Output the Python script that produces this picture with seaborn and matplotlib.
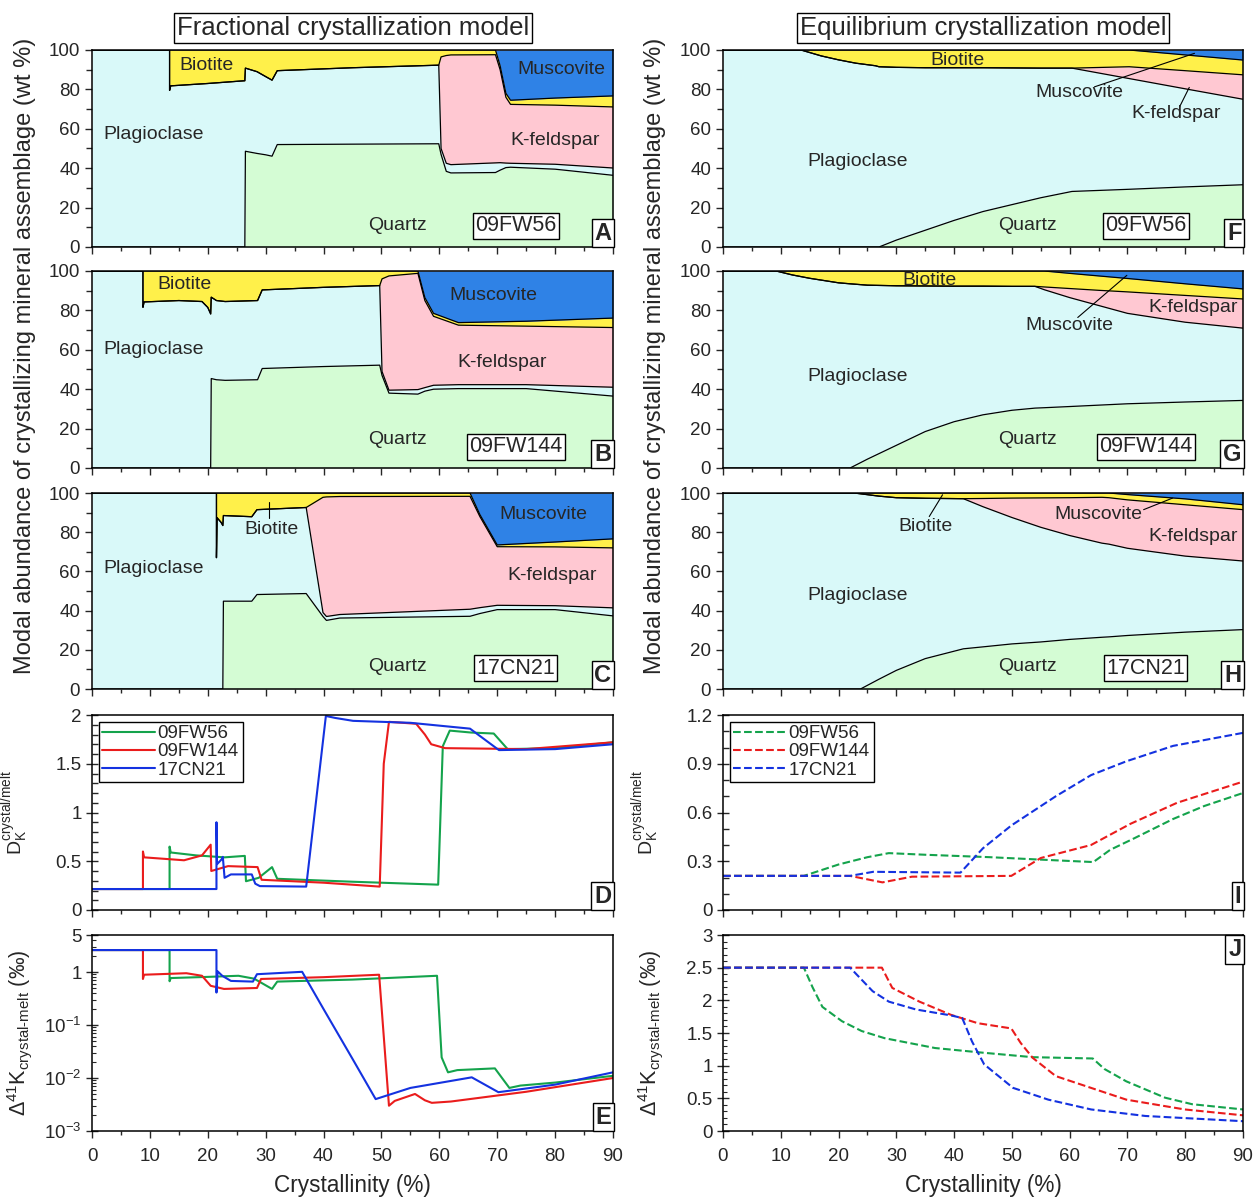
import numpy as np
import matplotlib
matplotlib.use('Agg')
import matplotlib.pyplot as plt
import seaborn as sns
from matplotlib.ticker import MultipleLocator, FixedLocator, FixedFormatter, LogLocator, NullFormatter

sns.set_theme(style='ticks')
plt.rcParams['font.family'] = ['Liberation Sans', 'DejaVu Sans']
plt.rcParams['mathtext.fontset'] = 'custom'
plt.rcParams['mathtext.rm'] = 'Liberation Sans'
plt.rcParams['mathtext.it'] = 'Liberation Sans:italic'
plt.rcParams['mathtext.bf'] = 'Liberation Sans:bold'

# -----------------------------
# Modal abundance (cumulative tops: quartz, plagioclase, K-feldspar, biotite; muscovite fills to 100)
# -----------------------------
a_x   = [0, 13.4, 13.4, 13.6, 20, 26.4, 26.5, 28.5, 30, 31.1, 32, 45, 59.9, 60.3, 61.2, 62, 69.7, 70.5, 71.5, 72.3, 80, 90]
a_qtz = [0, 0, 0, 0, 0, 0, 48.6, 47.5, 46.8, 46.1, 52, 52.2, 52.4, 47, 38.4, 37.6, 37.8, 39, 40.3, 40.5, 39.5, 36.4]
a_pl  = [100, 100, 79.5, 81.8, 83, 84.4, 90.8, 89, 86.5, 84.7, 89.5, 91, 92.3, 50, 42.5, 41.8, 42.7, 42.8, 42.6, 42.5, 42, 40.1]
a_kfs = [100, 100, 79.5, 81.8, 83, 84.4, 90.8, 89, 86.5, 84.7, 89.5, 91, 92.3, 96.5, 97.2, 97.5, 97.6, 90, 76, 72.4, 72, 71.1]
a_bt  = [100, 100, 100, 100, 100, 100, 100, 100, 100, 100, 100, 100, 100, 100, 100, 100, 100, 92, 78, 74.5, 75.6, 76.7]

b_x   = [0, 8.8, 8.8, 9.0, 15, 19, 20.0, 20.5, 20.6, 21.5, 23, 28.6, 29.4, 40, 49.7, 50.1, 51.3, 56.3, 57.5, 59, 63.3, 75, 90]
b_qtz = [0, 0, 0, 0, 0, 0, 0, 0, 45.4, 44.8, 44.5, 44.8, 50.5, 51.5, 52.2, 47, 38, 37.5, 39, 40, 40.3, 40.3, 36.5]
b_pl  = [100, 100, 81.6, 84.3, 85, 84.5, 81.5, 78.2, 86.7, 85, 84.5, 85, 90.4, 91.7, 92.6, 49, 39.5, 39.8, 40.8, 42, 42.3, 42.3, 41]
b_kfs = [100, 100, 81.6, 84.3, 85, 84.5, 81.5, 78.2, 86.7, 85, 84.5, 85, 90.4, 91.7, 92.6, 96, 97.5, 98.8, 85, 77, 72.5, 72, 71.3]
b_bt  = [100, 100, 100, 100, 100, 100, 100, 100, 100, 100, 100, 100, 100, 100, 100, 100, 100, 100, 86.5, 78.5, 73.8, 74.5, 76.1]

c_x   = [0, 21.5, 21.5, 21.6, 22.3, 22.6, 22.7, 27.6, 28.5, 37, 39.9, 40.5, 42.8, 65.3, 67, 70, 80, 90]
c_qtz = [0, 0, 0, 0, 0, 0, 44.8, 44.8, 48.2, 48.7, 37, 35, 36.2, 37.1, 38.5, 40.5, 40.5, 37.3]
c_pl  = [100, 100, 67, 87.4, 85, 83.4, 88.5, 87.9, 91.5, 92.6, 39, 37, 38, 40.7, 41.5, 42.7, 42.5, 41.4]
c_kfs = [100, 100, 67, 87.4, 85, 83.4, 88.5, 87.9, 91.5, 92.6, 97.8, 98, 98.2, 98.3, 88, 72.6, 72.5, 72]
c_bt  = [100, 100, 100, 100, 100, 100, 100, 100, 100, 100, 100, 100, 100, 100, 89, 73.5, 75, 76.6]

f_x   = [0, 13.5, 17, 20, 23, 26.4, 27, 30, 35, 40, 45, 50, 55, 60.4, 70.3, 80, 90]
f_qtz = [0, 0, 0, 0, 0, 0, 0, 3.5, 8.5, 13.5, 18, 21.5, 25, 28.2, 29.3, 30.5, 31.6]
f_pl  = [100, 100, 97, 95, 93.3, 92, 91.5, 91.2, 91, 91, 91, 90.9, 90.8, 90.8, 85.5, 80.3, 75]
f_kfs = [100, 100, 97, 95, 93.3, 92, 91.5, 91.2, 91, 91, 91, 90.9, 90.8, 90.8, 91.5, 89.5, 87.4]
f_bt  = [100, 100, 100, 100, 100, 100, 100, 100, 100, 100, 100, 100, 100, 100, 100, 97.5, 94.9]

g_x   = [0, 9.2, 12, 15, 20, 22, 25, 30, 35, 40, 45, 50, 54, 55.6, 60, 65, 70, 80, 90]
g_qtz = [0, 0, 0, 0, 0, 0, 4.5, 11.5, 18.5, 23.5, 27, 29.3, 30.4, 30.6, 31.2, 31.9, 32.6, 33.5, 34.3]
g_pl  = [100, 100, 98, 96.3, 94, 93.5, 92.8, 92.5, 92.4, 92.3, 92.3, 92.2, 92.2, 90.5, 86.5, 82.5, 78.5, 74, 71]
g_kfs = [100, 100, 98, 96.3, 94, 93.5, 92.8, 92.5, 92.4, 92.3, 92.3, 92.2, 92.2, 91.9, 91.1, 90.2, 89.4, 87.6, 85.8]
g_bt  = [100, 100, 100, 100, 100, 100, 100, 100, 100, 100, 100, 100, 100, 100, 98.8, 97.5, 96.2, 93.5, 90.9]

h_x   = [0, 22.7, 23.8, 27, 30, 35, 41.6, 45, 50, 55, 60, 65.6, 66.8, 70, 80, 90]
h_qtz = [0, 0, 0, 5, 9.5, 15.5, 20.5, 21.5, 23, 24, 25.3, 26.4, 26.6, 27.3, 29, 30.3]
h_pl  = [100, 100, 99.6, 98.4, 97.6, 97.3, 97.1, 93, 87.5, 82.5, 78.3, 74.4, 73.9, 71.8, 67.8, 65.3]
h_kfs = [100, 100, 99.6, 98.4, 97.6, 97.3, 97.1, 97.2, 97.4, 97.5, 97.6, 97.8, 97.6, 96.5, 94, 91.5]
h_bt  = [100, 100, 100, 100, 100, 100, 100, 100, 100, 100, 100, 100, 100, 99.2, 97, 94]

# -----------------------------
# D_K crystal/melt, fractional (D) and equilibrium (I)
# -----------------------------
dg_x = [0, 13.4, 13.4, 13.6, 18, 22.9, 26.4, 26.6, 28.8, 31.1, 32, 45, 59.8, 60.6, 61.8, 65.5, 69.4, 71.8, 80, 90]
dg_y = [0.215, 0.215, 0.65, 0.59, 0.56, 0.54, 0.555, 0.295, 0.33, 0.44, 0.32, 0.29, 0.26, 1.68, 1.84, 1.82, 1.81, 1.65, 1.66, 1.72]
dr_x = [0, 8.8, 8.8, 9.0, 15.9, 19, 20.5, 20.6, 23.5, 28.6, 29.3, 40, 49.7, 50.4, 51.3, 56, 57.5, 58.6, 61, 75, 90]
dr_y = [0.215, 0.215, 0.60, 0.54, 0.51, 0.56, 0.67, 0.40, 0.45, 0.44, 0.31, 0.28, 0.24, 1.5, 1.93, 1.91, 1.80, 1.70, 1.66, 1.65, 1.72]
db_x = [0, 21.5, 21.5, 21.6, 22.4, 22.6, 22.9, 24, 27.6, 28.2, 29, 37, 40.4, 42, 45.1, 55, 65.3, 70.3, 80, 90]
db_y = [0.215, 0.215, 0.90, 0.47, 0.52, 0.545, 0.33, 0.365, 0.365, 0.27, 0.245, 0.24, 1.99, 1.97, 1.94, 1.92, 1.86, 1.64, 1.65, 1.70]

ig_x = [0, 14, 17, 20, 25, 28.7, 35, 46.2, 55, 64.1, 67, 71.1, 77.9, 83.3, 90]
ig_y = [0.21, 0.21, 0.245, 0.28, 0.325, 0.35, 0.34, 0.325, 0.31, 0.295, 0.37, 0.44, 0.56, 0.64, 0.72]
ir_x = [0, 22, 27.6, 32.7, 49.9, 55, 63.7, 70.5, 78.6, 90]
ir_y = [0.21, 0.21, 0.17, 0.205, 0.21, 0.32, 0.40, 0.53, 0.66, 0.79]
ib_x = [0, 22, 26, 41.1, 45, 49.9, 57.6, 63.7, 69.8, 77.9, 90]
ib_y = [0.21, 0.21, 0.235, 0.23, 0.38, 0.52, 0.70, 0.83, 0.915, 1.01, 1.09]

# -----------------------------
# Delta41K crystal-melt, fractional (E) and equilibrium (J)
# -----------------------------
eg_x = [0, 13.4, 13.4, 13.6, 20, 25.3, 28, 31.1, 32, 45, 59.6, 60.4, 61.5, 63.1, 69.6, 72.1, 74, 80, 90]
eg_y = [2.6, 2.6, 0.67, 0.77, 0.81, 0.85, 0.75, 0.48, 0.66, 0.72, 0.85, 0.0245, 0.0128, 0.0141, 0.0152, 0.0065, 0.0072, 0.0082, 0.011]
er_x = [0, 8.8, 8.8, 9.0, 16.3, 19, 20.5, 22.8, 28.5, 29.2, 40, 49.6, 51.3, 52.3, 55.8, 57.5, 58.7, 62, 75, 90]
er_y = [2.6, 2.6, 0.74, 0.89, 0.95, 0.85, 0.55, 0.48, 0.5, 0.74, 0.8, 0.89, 0.0030, 0.0037, 0.005, 0.0038, 0.0034, 0.0036, 0.0055, 0.0100]
eb_x = [0, 21.5, 21.5, 21.7, 22.5, 24, 27.8, 28.5, 36.3, 40, 45, 49, 55, 65.6, 70.2, 80, 90]
eb_y = [2.6, 2.6, 0.41, 1.03, 0.85, 0.68, 0.66, 0.91, 1.01, 0.2, 0.023, 0.0040, 0.0065, 0.0103, 0.0054, 0.0075, 0.0128]

jg_x = [0, 14, 15.5, 17.2, 20.6, 24, 28, 36.7, 44.8, 53.6, 64, 66, 69.8, 76.5, 81.2, 90]
jg_y = [2.5, 2.5, 2.2, 1.9, 1.68, 1.53, 1.42, 1.27, 1.2, 1.13, 1.11, 0.95, 0.76, 0.51, 0.41, 0.33]
jr_x = [0, 27.5, 29.3, 34, 39.4, 44.1, 49.9, 51.5, 53.6, 57.6, 63.7, 69.8, 79.9, 90]
jr_y = [2.5, 2.5, 2.19, 1.98, 1.78, 1.65, 1.57, 1.35, 1.12, 0.84, 0.66, 0.48, 0.33, 0.24]
jb_x = [0, 22, 25.9, 28.7, 33.4, 39.4, 41.4, 43.1, 45.2, 50.2, 56.3, 63.7, 73.1, 90]
jb_y = [2.5, 2.5, 2.14, 1.98, 1.86, 1.77, 1.73, 1.37, 1.02, 0.66, 0.48, 0.33, 0.23, 0.15]

samples = ['09FW56', '09FW144', '17CN21']
line_colors = ['#14a34c', '#ea1c1c', '#1432e0']

QTZ, PLAG, KFS, BT, MUS = '#d4fcd4', '#d9f9f9', '#ffc8d2', '#fff04a', '#2f82e6'

FS = 13.5


def rect(xl, xr, yt, yb):
    return [xl / 1256, 1 - yb / 1197, (xr - xl) / 1256, (yb - yt) / 1197]


def style_x(ax, labels):
    ax.set_xlim(0, 90)
    ax.xaxis.set_major_locator(MultipleLocator(10))
    ax.xaxis.set_minor_locator(MultipleLocator(5))
    ax.tick_params(axis='x', which='both', direction='out', length=5, width=1, labelsize=FS,
                   top=False, labelbottom=labels, pad=7)
    ax.tick_params(axis='x', which='minor', length=3)
    for s in ax.spines.values():
        s.set_color('black')
        s.set_linewidth(1.1)
    ax.set_xlabel('')
    ax.set_ylabel('')
    if labels:
        ax.set_xlabel('Crystallinity (%)', fontsize=16.3, labelpad=7)


def panel_letter(ax, letter, top=False):
    ax.text(0.997, 0.985 if top else 0.012, letter, transform=ax.transAxes,
            ha='right', va='top' if top else 'bottom', fontsize=17, fontweight='bold',
            bbox=dict(boxstyle='square,pad=0.12', fc='white', ec='black', lw=1), zorder=5)


def modal_panel(ax, x, q, p, k, b, sample, letter, labels, leaders):
    x = np.asarray(x)
    zero = np.zeros(len(x))
    full = np.full(len(x), 100.0)
    for lo, hi, c in [(zero, q, QTZ), (q, p, PLAG), (p, k, KFS), (k, b, BT), (b, full, MUS)]:
        ax.fill_between(x, lo, hi, color=c, lw=0)
    for edge in (q, p, k, b):
        sns.lineplot(x=x, y=edge, color='black', lw=0.9, estimator=None, sort=False, ax=ax)
    ax.set_ylim(0, 100)
    ax.yaxis.set_major_locator(MultipleLocator(20))
    ax.yaxis.set_minor_locator(MultipleLocator(10))
    ax.tick_params(axis='y', which='both', direction='out', length=5, width=1, labelsize=FS, right=False)
    ax.tick_params(axis='y', which='minor', length=4)
    for name, (tx, ty) in labels.items():
        ax.text(tx, ty, name, ha='center', va='center', fontsize=FS + 0.5)
    for (x0, y0, x1, y1) in leaders:
        ax.plot([x0, x1], [y0, y1], color='black', lw=0.8)
    ax.text(73.2, 10.7, sample, ha='center', va='center', fontsize=15.5,
            bbox=dict(boxstyle='square,pad=0.1', fc='white', ec='black', lw=1))
    panel_letter(ax, letter)


fig = plt.figure(figsize=(12.56, 11.97), dpi=100)

rows = [(50, 247), (271, 468), (493, 689), (715, 910), (935, 1131)]
L = (92, 613)
R = (723, 1243)

modal_specs = [
    (L, rows[0], (a_x, a_qtz, a_pl, a_kfs, a_bt), '09FW56', 'A',
     {'Biotite': (19.7, 92), 'Plagioclase': (10.6, 57), 'Muscovite': (81.1, 90.3),
      'K-feldspar': (80, 54), 'Quartz': (52.7, 11)}, []),
    (L, rows[1], (b_x, b_qtz, b_pl, b_kfs, b_bt), '09FW144', 'B',
     {'Biotite': (15.9, 93.3), 'Plagioclase': (10.6, 60), 'Muscovite': (69.4, 87.5),
      'K-feldspar': (70.9, 53.4), 'Quartz': (52.7, 14.5)}, []),
    (L, rows[2], (c_x, c_qtz, c_pl, c_kfs, c_bt), '17CN21', 'C',
     {'Biotite': (31, 81.5), 'Plagioclase': (10.6, 61.5), 'Muscovite': (77.9, 89.2),
      'K-feldspar': (79.4, 58.1), 'Quartz': (52.7, 11.5)}, [(30.6, 87, 30.6, 95.5)]),
    (R, rows[0], (f_x, f_qtz, f_pl, f_kfs, f_bt), '09FW56', 'F',
     {'Biotite': (40.5, 94.7), 'Plagioclase': (23.3, 43.5), 'Muscovite': (61.7, 78.4),
      'K-feldspar': (78.4, 67.7), 'Quartz': (52.7, 11)},
     [(64.3, 81.3, 81.6, 98.3), (79, 71, 80.7, 81)]),
    (R, rows[1], (g_x, g_qtz, g_pl, g_kfs, g_bt), '09FW144', 'G',
     {'Biotite': (35.8, 95.4), 'Plagioclase': (23.3, 46.6), 'Muscovite': (60, 72.2),
      'K-feldspar': (81.3, 81.6), 'Quartz': (52.7, 14.5)},
     [(61.4, 76.4, 69.9, 97.8)]),
    (R, rows[2], (h_x, h_qtz, h_pl, h_kfs, h_bt), '17CN21', 'H',
     {'Biotite': (35.1, 82.9), 'Plagioclase': (23.3, 47.9), 'Muscovite': (64.9, 89.2),
      'K-feldspar': (81.3, 77.8), 'Quartz': (52.7, 11.5)},
     [(35.7, 88, 38, 99.1), (72.8, 91.5, 77.8, 97.4)]),
]

for col, (yt, yb), data, sample, letter, labels, leaders in modal_specs:
    ax = fig.add_axes(rect(col[0], col[1], yt, yb))
    modal_panel(ax, *data, sample, letter, labels, leaders)
    style_x(ax, False)


def dk_panel(ax, series, dashed, ticks):
    for (xs, ys), name, c in zip(series, samples, line_colors):
        sns.lineplot(x=xs, y=ys, color=c, lw=1.5, estimator=None, sort=False, ax=ax,
                     label=name, linestyle='--' if dashed else '-')
    ax.set_ylim(0, ticks[-1])
    ax.yaxis.set_major_locator(FixedLocator(ticks))
    ax.yaxis.set_major_formatter(FixedFormatter(['%g' % t for t in ticks]))
    ax.yaxis.set_minor_locator(MultipleLocator(0.1))
    ax.tick_params(axis='y', which='major', direction='inout', length=8, width=1, labelsize=FS, right=False)
    ax.tick_params(axis='y', which='minor', direction='in', length=4, width=1, right=False)
    leg = ax.legend(loc='upper left', frameon=True, fancybox=False, framealpha=1, fontsize=FS,
                    handlelength=2.8, handletextpad=0.15, labelspacing=0.05, borderpad=0.2,
                    borderaxespad=0.35)
    leg.get_frame().set_edgecolor('black')
    leg.get_frame().set_linewidth(1)


dk_label = r'D$_\mathregular{K}^\mathregular{crystal/melt}$'
d41_label = '\u0394$^\\mathregular{41}$K$_\\mathregular{crystal\u2010melt}$ (\u2030)'

# D
ax = fig.add_axes(rect(L[0], L[1], *rows[3]))
dk_panel(ax, [(dg_x, dg_y), (dr_x, dr_y), (db_x, db_y)], False, [0, 0.5, 1, 1.5, 2])
style_x(ax, False)
ax.set_ylabel(dk_label, fontsize=14)
ax.yaxis.set_label_coords(-0.118, 0.5)
panel_letter(ax, 'D')

# I
ax = fig.add_axes(rect(R[0], R[1], *rows[3]))
dk_panel(ax, [(ig_x, ig_y), (ir_x, ir_y), (ib_x, ib_y)], True, [0, 0.3, 0.6, 0.9, 1.2])
style_x(ax, False)
ax.set_ylabel(dk_label, fontsize=14)
ax.yaxis.set_label_coords(-0.118, 0.5)
panel_letter(ax, 'I')

# E
ax = fig.add_axes(rect(L[0], L[1], *rows[4]))
for xs, ys, c in [(eg_x, eg_y, line_colors[0]), (er_x, er_y, line_colors[1]), (eb_x, eb_y, line_colors[2])]:
    sns.lineplot(x=xs, y=ys, color=c, lw=1.5, estimator=None, sort=False, ax=ax)
ax.set_yscale('log')
ax.set_ylim(1e-3, 5)
ax.yaxis.set_major_locator(FixedLocator([1e-3, 1e-2, 1e-1, 1, 5]))
ax.yaxis.set_major_formatter(FixedFormatter(['$\\mathregular{10^{-3}}$', '$\\mathregular{10^{-2}}$',
                                             '$\\mathregular{10^{-1}}$', '1', '5']))
ax.yaxis.set_minor_locator(LogLocator(base=10, subs=np.arange(2, 10)))
ax.yaxis.set_minor_formatter(NullFormatter())
ax.tick_params(axis='y', which='major', direction='inout', length=8, width=1, labelsize=FS, right=False)
ax.tick_params(axis='y', which='minor', direction='in', length=3, width=0.8, right=False)
style_x(ax, True)
ax.set_ylabel(d41_label, fontsize=15.5)
ax.yaxis.set_label_coords(-0.112, 0.5)
panel_letter(ax, 'E')

# J
ax = fig.add_axes(rect(R[0], R[1], *rows[4]))
for xs, ys, c in [(jg_x, jg_y, line_colors[0]), (jr_x, jr_y, line_colors[1]), (jb_x, jb_y, line_colors[2])]:
    sns.lineplot(x=xs, y=ys, color=c, lw=1.5, estimator=None, sort=False, ax=ax, linestyle='--')
ax.set_ylim(0, 3)
ax.yaxis.set_major_locator(FixedLocator([0, 0.5, 1, 1.5, 2, 2.5, 3]))
ax.yaxis.set_major_formatter(FixedFormatter(['0', '0.5', '1', '1.5', '2', '2.5', '3']))
ax.yaxis.set_minor_locator(MultipleLocator(0.1))
ax.tick_params(axis='y', which='major', direction='inout', length=8, width=1, labelsize=FS, right=False)
ax.tick_params(axis='y', which='minor', direction='in', length=3, width=0.8, right=False)
style_x(ax, True)
ax.set_ylabel(d41_label, fontsize=15.5)
ax.yaxis.set_label_coords(-0.112, 0.5)
panel_letter(ax, 'J', top=True)

# column titles and shared y labels
box = dict(boxstyle='square,pad=0.12', fc='white', ec='black', lw=1)
fig.text(353 / 1256, 1 - 28 / 1197, 'Fractional crystallization model', ha='center', va='center',
         fontsize=18.5, bbox=box)
fig.text(983 / 1256, 1 - 28 / 1197, 'Equilibrium crystallization model', ha='center', va='center',
         fontsize=18.5, bbox=box)
ylab = 'Modal abundance of crystallizing mineral assemblage (wt %)'
fig.text(25 / 1256, 1 - 356 / 1197, ylab, rotation=90, ha='center', va='center', fontsize=17)
fig.text(655 / 1256, 1 - 356 / 1197, ylab, rotation=90, ha='center', va='center', fontsize=17)

fig.savefig('out.png', dpi=100)
